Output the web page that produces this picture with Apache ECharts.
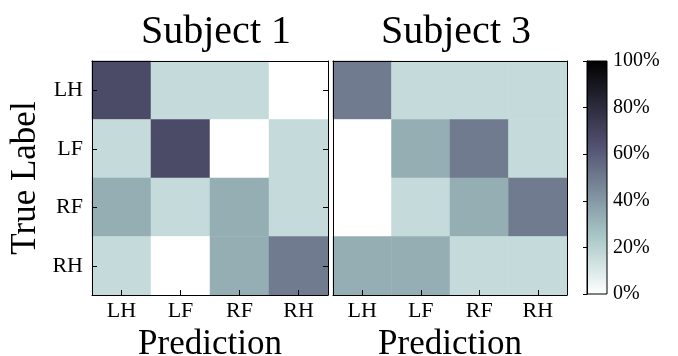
<!DOCTYPE html>
<html>
<head>
<meta charset="utf-8">
<script src="https://cdn.jsdelivr.net/npm/echarts@6/dist/echarts.min.js"></script>
<style>html,body{margin:0;padding:0;background:#fff}#c{width:678px;height:356px}</style>
</head>
<body>
<div id="c"></div>
<script>
// ---- data ----
const labels = ['LH', 'LF', 'RF', 'RH'];
const titles = ['Subject 1', 'Subject 3'];
// rows = true label, columns = prediction, values in %
const subject1 = [
  [66.7, 16.7, 16.7, 0],
  [16.7, 66.7, 0, 16.7],
  [33.3, 16.7, 33.3, 16.7],
  [16.7, 0, 33.3, 50]
];
const subject3 = [
  [50, 16.7, 16.7, 16.7],
  [0, 33.3, 50, 16.7],
  [0, 16.7, 33.3, 50],
  [33.3, 33.3, 16.7, 16.7]
];
const cbarMin = 0, cbarMax = 100, cbarStep = 20;

// ---- bone_r colormap ----
function bone(x) {
  let r, g, b;
  r = x < 0.746032 ? 0.652778 * x / 0.746032 : 0.652778 + (x - 0.746032) / 0.253968 * 0.347222;
  if (x < 0.365079) g = 0.319444 * x / 0.365079;
  else if (x < 0.746032) g = 0.319444 + (x - 0.365079) / 0.380953 * 0.458334;
  else g = 0.777778 + (x - 0.746032) / 0.253968 * 0.222222;
  b = x < 0.365079 ? 0.444444 * x / 0.365079 : 0.444444 + (x - 0.365079) / 0.634921 * 0.555556;
  const f = v => Math.round(Math.max(0, Math.min(1, v)) * 255);
  return 'rgb(' + f(r) + ',' + f(g) + ',' + f(b) + ')';
}
const boneR = v => bone(1 - v);
const mapColors = [];
for (let i = 0; i <= 100; i++) mapColors.push(boneR(i / 100));
const gradStops = [0, 0.253968, 0.634921, 1].map(o => ({ offset: o, color: boneR(o) }));

function toCells(m) {
  const out = [];
  m.forEach((row, yi) => row.forEach((v, xi) => out.push([xi, yi, v])));
  return out;
}

const FONT = 'Liberation Serif';
const chart = echarts.init(document.getElementById('c'));
const grids = [
  { left: 92, top: 61, width: 236, height: 234, outerBoundsMode: 'none', containLabel: false },
  { left: 333, top: 61, width: 234, height: 234, outerBoundsMode: 'none', containLabel: false },
  { left: 587, top: 61, width: 20, height: 233, show: true, outerBoundsMode: 'none', containLabel: false,
    backgroundColor: { type: 'linear', x: 0, y: 1, x2: 0, y2: 0, colorStops: gradStops },
    borderColor: '#000', borderWidth: 1 }
];
const xAxes = [], yAxes = [];
[0, 1].forEach(gi => {
  xAxes.push({
    type: 'category', data: labels, gridIndex: gi, position: 'bottom', z: 10,
    axisLine: { show: true, lineStyle: { color: '#000', width: 1 } },
    axisTick: { show: true, inside: true, length: 5, alignWithLabel: true, lineStyle: { color: '#000' } },
    axisLabel: { fontFamily: FONT, fontSize: 22, color: '#000', margin: 5 },
    name: 'Prediction', nameLocation: 'middle', nameGap: 29,
    nameTextStyle: { fontFamily: FONT, fontSize: 35, color: '#000' },
    splitLine: { show: false }
  });
  xAxes.push({
    type: 'category', data: labels, gridIndex: gi, position: 'top', z: 10,
    axisLine: { show: true, lineStyle: { color: '#000', width: 1 } },
    axisTick: { show: false }, axisLabel: { show: false }, splitLine: { show: false }
  });
  yAxes.push({
    type: 'category', data: labels, gridIndex: gi, position: 'left', inverse: true, z: 10,
    axisLine: { show: true, lineStyle: { color: '#000', width: 1 } },
    axisTick: { show: gi === 0, inside: true, length: 5, alignWithLabel: true, lineStyle: { color: '#000' } },
    axisLabel: { show: gi === 0, fontFamily: FONT, fontSize: 22, color: '#000', margin: 9 },
    name: gi === 0 ? 'True Label' : '', nameLocation: 'middle', nameGap: 49, nameRotate: 90,
    nameTextStyle: { fontFamily: FONT, fontSize: 35, color: '#000' },
    splitLine: { show: false }
  });
  yAxes.push({
    type: 'category', data: labels, gridIndex: gi, position: 'right', inverse: true, z: 10,
    axisLine: { show: true, lineStyle: { color: '#000', width: 1 } },
    axisTick: { show: gi === 0, inside: true, length: 5, alignWithLabel: true, lineStyle: { color: '#000' } },
    axisLabel: { show: false }, splitLine: { show: false }
  });
});
xAxes.push({ type: 'value', gridIndex: 2, show: false, min: 0, max: 1 });
yAxes.push({
  type: 'value', gridIndex: 2, position: 'right', min: cbarMin, max: cbarMax, interval: cbarStep, z: 10,
  axisLine: { show: true, lineStyle: { color: '#000', width: 1 } },
  axisTick: { show: true, inside: true, length: 4, lineStyle: { color: '#000' } },
  axisLabel: { fontFamily: FONT, fontSize: 20, color: '#000', margin: 6, formatter: '{value}%' },
  splitLine: { show: false }
});

chart.setOption({
  animation: false,
  textStyle: { fontFamily: FONT },
  title: titles.map((t, i) => ({
    text: t, left: i === 0 ? 211 : 451, top: 7, textAlign: 'center',
    textStyle: { fontFamily: FONT, fontSize: 40, fontWeight: 'normal', color: '#000' }
  })),
  grid: grids,
  xAxis: xAxes,
  yAxis: yAxes,
  visualMap: { show: false, type: 'continuous', min: cbarMin, max: cbarMax, seriesIndex: [0, 1], inRange: { color: mapColors } },
  series: [
    { type: 'heatmap', xAxisIndex: 0, yAxisIndex: 0, data: toCells(subject1), itemStyle: { borderWidth: 0 } },
    { type: 'heatmap', xAxisIndex: 2, yAxisIndex: 2, data: toCells(subject3), itemStyle: { borderWidth: 0 } }
  ]
});
</script>
</body>
</html>
